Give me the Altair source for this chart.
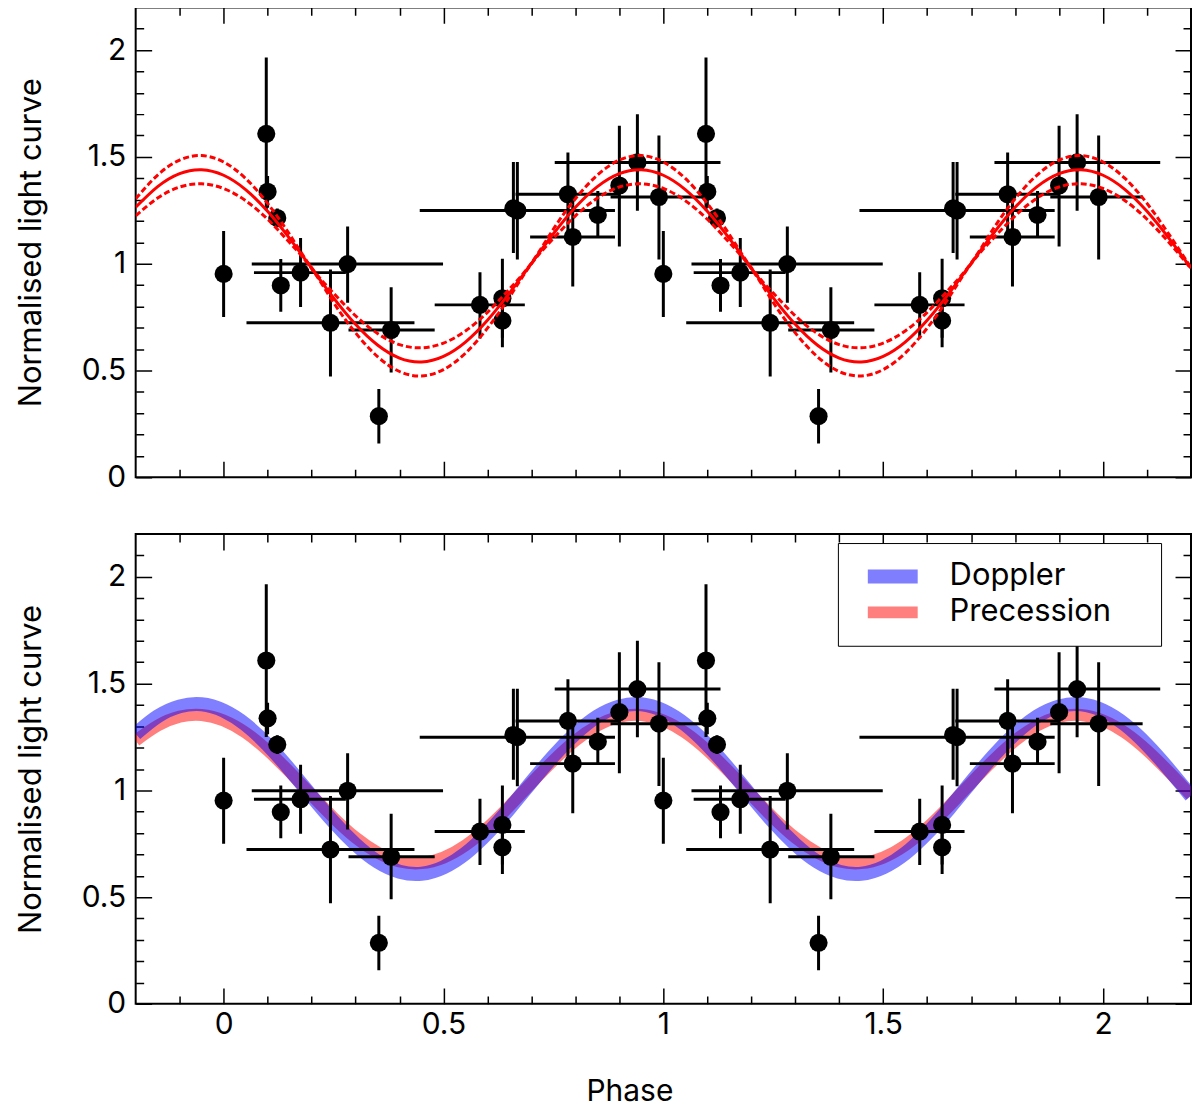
import altair as alt
import pandas as pd

# folded light-curve bins (one cycle; drawn again at phase + 1)
phase = [0.000, 0.097, 0.100, 0.122, 0.130, 0.175, 0.282, 0.243, 0.353, 0.381, 0.583,
         0.634, 0.634, 0.659, 0.668, 0.783, 0.794, 0.851, 0.900, 0.941, 0.990]
flux = [0.952, 1.608, 1.337, 1.214, 0.898, 0.958, 0.998, 0.723, 0.286, 0.689, 0.807,
        0.838, 0.733, 1.259, 1.249, 1.325, 1.125, 1.228, 1.366, 1.474, 1.312]
flux_lo = [0.750, 1.250, 1.262, 1.170, 0.775, 0.797, 0.817, 0.471, 0.158, 0.490, 0.650,
           0.653, 0.608, 1.050, 1.019, 1.130, 0.893, 1.126, 1.080, 1.248, 1.020]
flux_hi = [1.153, 1.965, 1.410, 1.258, 1.022, 1.120, 1.174, 0.973, 0.413, 0.890, 0.960,
           1.023, 0.858, 1.476, 1.476, 1.520, 1.350, 1.340, 1.646, 1.700, 1.600]
phase_lo = [None, None, None, None, None, 0.069, 0.064, 0.052, None, 0.284, 0.480,
            None, None, None, 0.446, 0.664, 0.697, None, None, 0.753, 0.880]
phase_hi = [None, None, None, None, None, 0.278, 0.499, 0.434, None, 0.480, 0.685,
            None, None, None, 0.890, 0.902, 0.890, None, None, 1.130, 1.090]

model_phase = [0.00, 0.05, 0.10, 0.15, 0.20, 0.25, 0.30, 0.35, 0.40, 0.45,
               0.50, 0.55, 0.60, 0.65, 0.70, 0.75, 0.80, 0.85, 0.90, 0.95]
fit_mid = [1.414, 1.347, 1.245, 1.118, 0.979, 0.840, 0.716, 0.619, 0.558, 0.540,
           0.566, 0.633, 0.735, 0.862, 1.001, 1.140, 1.264, 1.361, 1.422, 1.440]
fit_upper = [1.476, 1.399, 1.282, 1.137, 0.981, 0.862, 0.756, 0.673, 0.621, 0.606,
             0.628, 0.685, 0.772, 0.881, 1.003, 1.162, 1.304, 1.415, 1.485, 1.506]
fit_lower = [1.352, 1.295, 1.208, 1.099, 0.977, 0.818, 0.676, 0.565, 0.495, 0.474,
             0.504, 0.581, 0.698, 0.843, 0.999, 1.118, 1.224, 1.307, 1.359, 1.374]
doppler = [1.373, 1.308, 1.213, 1.098, 0.973, 0.852, 0.747, 0.666, 0.619, 0.609,
           0.639, 0.704, 0.799, 0.914, 1.039, 1.160, 1.265, 1.346, 1.393, 1.403]
precession = [1.327, 1.270, 1.187, 1.086, 0.977, 0.872, 0.779, 0.709, 0.667, 0.659,
              0.685, 0.742, 0.825, 0.926, 1.035, 1.140, 1.233, 1.303, 1.345, 1.353]

x_major = [0, 0.5, 1, 1.5, 2]
x_minor = [-0.1, 0.1, 0.2, 0.3, 0.4, 0.6, 0.7, 0.8, 0.9, 1.1, 1.2, 1.3, 1.4,
           1.6, 1.7, 1.8, 1.9, 2.1]
y_major = [0, 0.5, 1, 1.5, 2]
y_minor = [0.1, 0.2, 0.3, 0.4, 0.6, 0.7, 0.8, 0.9, 1.1, 1.2, 1.3, 1.4,
           1.6, 1.7, 1.8, 1.9, 2.1]

W, H = 1058, 471
FONT = "Inter"
X_DOMAIN = [-0.2, 2.2]
Y_DOMAIN = [0, 2.2]


def folded_points() -> pd.DataFrame:
    one = pd.DataFrame({"phase": phase, "flux": flux, "lo": flux_lo, "hi": flux_hi,
                        "xlo": phase_lo, "xhi": phase_hi}).astype(float)
    two = one.copy()
    for col in ["phase", "xlo", "xhi"]:
        two[col] = two[col] + 1
    return pd.concat([one, two], ignore_index=True)


def tiled_curves(curves: dict) -> pd.DataFrame:
    rows = []
    for name, values in curves.items():
        for k in (-1, 0, 1, 2):
            for p, v in zip(model_phase, values):
                if X_DOMAIN[0] - 1e-9 <= p + k <= X_DOMAIN[1] + 1e-9:
                    rows.append({"phase": round(p + k, 3), "value": v, "curve": name})
    return pd.DataFrame(rows)


def x_enc(field, axis=None):
    return alt.X(f"{field}:Q", scale=alt.Scale(domain=X_DOMAIN, nice=False, zero=False),
                 axis=axis)


def y_enc(field, axis=None):
    return alt.Y(f"{field}:Q", scale=alt.Scale(domain=Y_DOMAIN, nice=False), axis=axis)


def axes(show_x: bool):
    # ticks point inwards on all four sides: dashed grid lines that are only "on" at the ends
    x_kw = dict(orient="bottom", values=x_major, format="~g", grid=True,
                gridDash=[16, H - 32, 16], ticks=False, domain=False, labels=show_x,
                labelPadding=6)
    if show_x:
        x_kw.update(title="Phase", titleX=495, titleY=97, titleBaseline="alphabetic")
    else:
        x_kw.update(title=None)
    x_major_axis = alt.Axis(**x_kw)
    x_minor_axis = alt.Axis(orient="bottom", values=x_minor, grid=True,
                            gridDash=[8, H - 16, 8], ticks=False, domain=False,
                            labels=False, title=None)
    y_major_axis = alt.Axis(orient="left", values=y_major, format="~g", grid=True,
                            gridDash=[16, W - 32, 16], ticks=False, domain=False,
                            labelPadding=10, title="Normalised light curve",
                            titleX=-95, titleBaseline="alphabetic", titleFontSize=31)
    y_minor_axis = alt.Axis(orient="left", values=y_minor, grid=True,
                            gridDash=[8, W - 16, 8], ticks=False, domain=False,
                            labels=False, title=None)
    return x_major_axis, x_minor_axis, y_major_axis, y_minor_axis


def data_layers(pts, show_x):
    xa, xm, ya, ym = axes(show_x)
    base = alt.Chart(pts)
    xerr = base.transform_filter("isValid(datum.xlo)").mark_rule(
        color="black", strokeWidth=3, clip=True
    ).encode(x=x_enc("xlo", xa), x2="xhi:Q", y=y_enc("flux", ya))
    yerr = base.mark_rule(color="black", strokeWidth=3, clip=True).encode(
        x=x_enc("phase", xm), y=y_enc("lo", ym), y2="hi:Q"
    )
    dots = base.mark_circle(size=330, color="black", opacity=1).encode(
        x=x_enc("phase"), y=y_enc("flux")
    )
    return xerr, yerr, dots


pts = folded_points()

# top panel: sinusoid fit with its envelope
fit = tiled_curves({"fit": fit_mid, "upper": fit_upper, "lower": fit_lower})
fit_line = alt.Chart(fit).transform_filter("datum.curve == 'fit'").mark_line(
    color="#ff0000", strokeWidth=3, interpolate="natural", clip=True
).encode(x=x_enc("phase"), y=y_enc("value"))
env_line = alt.Chart(fit).transform_filter("datum.curve != 'fit'").mark_line(
    color="#ff0000", strokeWidth=3, strokeDash=[6, 3], interpolate="natural", clip=True
).encode(x=x_enc("phase"), y=y_enc("value"), detail="curve:N")

xerr_t, yerr_t, dots_t = data_layers(pts, False)
top = alt.layer(xerr_t, yerr_t, dots_t, fit_line, env_line).resolve_axis(
    x="independent", y="independent"
).properties(width=W, height=H)

# bottom panel: the two models
models = tiled_curves({"Precession": precession, "Doppler": doppler})
bands = alt.Chart(models).mark_line(opacity=0.5, interpolate="natural", clip=True).encode(
    x=x_enc("phase"),
    y=y_enc("value"),
    color=alt.Color(
        "curve:N",
        scale=alt.Scale(domain=["Doppler", "Precession"], range=["#0000ff", "#ff0000"]),
        legend=alt.Legend(
            orient="none", legendX=704, legendY=9, title=None, padding=18,
            strokeColor="black", fillColor="white", labelFont=FONT, labelFontSize=31,
            labelColor="black", labelLimit=400, symbolType="M-0.7,0H9.3",
            symbolStrokeWidth=12, symbolSize=100, symbolOpacity=0.5, labelOffset=63,
            rowPadding=4, clipHeight=31, labelExpr="datum.label + '\u00a0\u2800'",
        ),
    ),
    strokeWidth=alt.StrokeWidth(
        "curve:N", scale=alt.Scale(domain=["Doppler", "Precession"], range=[14, 12]),
        legend=None,
    ),
)

xerr_b, yerr_b, dots_b = data_layers(pts, True)
bottom = alt.layer(bands, xerr_b, yerr_b, dots_b).resolve_axis(
    x="independent", y="independent"
).properties(width=W, height=H)

chart = alt.vconcat(top, bottom, spacing=40).resolve_scale(
    color="independent", strokeWidth="independent"
).properties(
    padding={"left": 6, "top": -3, "right": 0, "bottom": 0}
).configure_view(
    stroke="black", strokeWidth=2
).configure_axis(
    labelFont=FONT, labelFontSize=30, labelColor="black",
    titleFont=FONT, titleFontSize=30, titleFontWeight="normal", titleColor="black",
    gridColor="black", gridWidth=1.5, gridOpacity=1,
)

chart.save("out.html", embed_options={"renderer": "svg", "actions": False})
